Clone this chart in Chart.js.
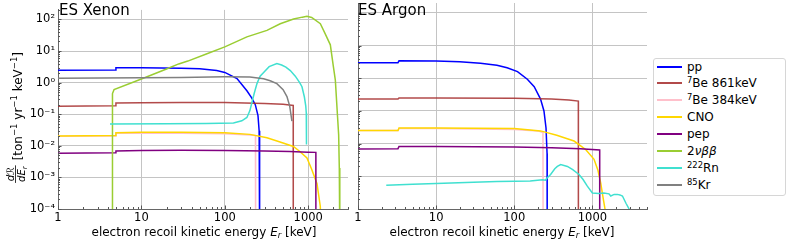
<!DOCTYPE html>
<html><head><meta charset="utf-8">
<script src="https://cdn.jsdelivr.net/npm/chart.js@4/dist/chart.umd.min.js"></script>
<style>
body{margin:0;background:#fff;}
#wrap{position:relative;width:789px;height:242px;overflow:hidden;font-family:'DejaVu Sans',sans-serif;color:#000}
canvas{position:absolute;top:0}
.ptitle{position:absolute;top:0px;font-size:15px;line-height:20px;white-space:nowrap}
.xtitle{position:absolute;top:224px;font-size:12px;line-height:16px;transform:translateX(-50%);white-space:nowrap}
#legend{position:absolute;left:653px;top:58px;width:131px;height:136px;border:1px solid #d6d6d6;border-radius:3px;background:#fff}
.lrow{position:absolute;left:0;height:16px;width:130px}
.lline{position:absolute;left:3px;top:7px;width:25px;height:2px}
.ltext{position:absolute;left:33px;top:0;font-size:12px;line-height:16px;white-space:nowrap}
sup{font-size:70%;vertical-align:0.45em;line-height:0}
sub{font-size:70%;vertical-align:-0.25em;line-height:0}
</style></head>
<body>
<div id="wrap">
<canvas id="xe" width="352" height="242" style="left:0"></canvas>
<canvas id="ar" width="300" height="242" style="left:350px"></canvas>
<div class="ptitle" style="left:59px">ES Xenon</div>
<div class="ptitle" style="left:358px">ES Argon</div>
<div class="xtitle" style="left:204px">electron recoil kinetic energy <i>E<sub>r</sub></i> [keV]</div>
<div class="xtitle" style="left:502px">electron recoil kinetic energy <i>E<sub>r</sub></i> [keV]</div>
<div id="legend"></div>
</div>
<script>
// ---- series names / colours ----
const seriesNames = ['pp', '7Be 861keV', '7Be 384keV', 'CNO', 'pep', '2νββ', '222Rn', '85Kr'];
const seriesColors = ['#0000ff', 'rgba(165,42,42,0.85)', '#ffc0cb', '#ffd700', '#800080', '#9acd32', '#40e0d0', '#808080'];
const xTickLabels = [1, 10, 100, 1000];
const yTickValues = [1e-4, 1e-3, 1e-2, 1e-1, 1, 10, 100];

// ---- ES Xenon ----
const xePpE   = [1, 4.85, 4.95, 10, 30, 50, 80, 100, 140, 184, 210, 232, 250, 258, 261, 262];
const xePpR   = [2.45, 2.5, 2.95, 2.95, 2.85, 2.75, 2.4, 2.1, 1.35, 0.55, 0.33, 0.2, 0.09, 0.03, 0.004, 1e-5];
const xeBe861E = [1, 4.85, 4.95, 10, 30, 100, 300, 500, 661, 662];
const xeBe861R = [0.18, 0.185, 0.225, 0.23, 0.235, 0.235, 0.22, 0.205, 0.19, 1e-5];
const xeBe384E = [1, 4.85, 4.95, 10, 30, 100, 200, 233, 234];
const xeBe384R = [0.02, 0.0205, 0.025, 0.025, 0.025, 0.024, 0.022, 0.021, 1e-5];
const xeCnoE  = [1, 4.85, 4.95, 10, 30, 100, 200, 320, 450, 665, 800, 966, 1100, 1275, 1397, 1430];
const xeCnoR  = [0.0205, 0.021, 0.026, 0.027, 0.027, 0.026, 0.023, 0.018, 0.0135, 0.0095, 0.0065, 0.0041, 0.0018, 0.00063, 0.00012, 1e-5];
const xePepE  = [1, 4.85, 4.95, 10, 30, 100, 300, 600, 1000, 1235, 1236];
const xePepR  = [0.0058, 0.006, 0.0069, 0.0071, 0.0072, 0.0071, 0.0069, 0.0066, 0.0063, 0.0062, 1e-5];
const xe2nbbE = [4.45, 4.5, 4.7, 10, 20, 28, 36, 60, 100, 184, 320, 462, 668, 850, 966, 1100, 1398, 1600, 1842, 2000, 2115, 2250, 2318, 2360, 2385, 2400];
const xe2nbbR = [1e-5, 0.45, 0.6, 1.3, 2.7, 3.9, 4.8, 8, 13.5, 28, 45, 73, 103, 118, 125, 115, 73, 35, 15.7, 3.3, 1.2, 0.08, 0.022, 0.002, 1e-4, 1e-5];
const xeRnE   = [4.2, 20, 60, 127, 160, 184, 200, 211, 225, 243, 265, 292, 340, 421, 480, 540, 610, 700, 790, 842, 900, 935, 948, 952, 955];
const xeRnR   = [0.049, 0.05, 0.051, 0.053, 0.062, 0.079, 0.13, 0.23, 0.45, 0.93, 1.6, 2.1, 3.2, 4.0, 3.6, 3.1, 2.4, 1.6, 1.0, 0.74, 0.35, 0.18, 0.11, 0.05, 0.011];
const xeKrE   = [1, 10, 30, 100, 200, 292, 350, 421, 500, 556, 600, 638];
const xeKrR   = [1.38, 1.42, 1.46, 1.52, 1.5, 1.33, 1.15, 0.93, 0.6, 0.36, 0.18, 0.06];

// ---- ES Argon ----
const arPpE   = [1, 3.25, 3.35, 10, 20, 37, 60, 81, 110, 147, 180, 217, 240, 255, 263, 264];
const arPpR   = [3.0, 3.0, 3.4, 3.35, 3.2, 2.85, 2.5, 2.1, 1.6, 0.93, 0.55, 0.23, 0.1, 0.03, 0.005, 1e-5];
const arBe861E = [1, 3.25, 3.35, 10, 100, 300, 500, 661, 662];
const arBe861R = [0.23, 0.23, 0.25, 0.25, 0.245, 0.23, 0.215, 0.2, 1e-5];
const arBe384E = [1, 3.25, 3.35, 10, 100, 200, 233, 234];
const arBe384R = [0.025, 0.025, 0.029, 0.029, 0.027, 0.0245, 0.022, 1e-5];
const arCnoE  = [1, 3.25, 3.35, 10, 100, 217, 350, 582, 820, 1050, 1180, 1277, 1380, 1450, 1470];
const arCnoR  = [0.025, 0.025, 0.030, 0.030, 0.029, 0.0245, 0.018, 0.012, 0.0066, 0.0033, 0.0015, 0.00063, 0.0002, 1e-4, 1e-5];
const arPepE  = [1, 3.25, 3.35, 10, 100, 300, 700, 1240, 1241];
const arPepR  = [0.0069, 0.007, 0.0082, 0.0082, 0.0079, 0.0075, 0.007, 0.0064, 1e-5];
const arRnE   = [2.3, 5, 10, 30, 60, 100, 160, 230, 250, 265, 292, 330, 356, 393, 479, 560, 674, 760, 861, 1000, 1200, 1400, 1630, 1718, 1900, 2090, 2250, 2425, 2690, 2950, 3000];
const arRnR   = [5.3e-4, 5.7e-4, 6e-4, 6.6e-4, 6.9e-4, 7e-4, 7.2e-4, 7.8e-4, 7.6e-4, 9e-4, 1.14e-3, 1.7e-3, 2e-3, 2.3e-3, 2e-3, 1.6e-3, 1.14e-3, 8e-4, 5e-4, 3.1e-4, 3e-4, 3.1e-4, 2.9e-4, 2.5e-4, 2.8e-4, 2.8e-4, 2.7e-4, 2.5e-4, 1.5e-4, 1e-4, 1e-5];

const xenonSeries = [[xePpE, xePpR], [xeBe861E, xeBe861R], [xeBe384E, xeBe384R], [xeCnoE, xeCnoR], [xePepE, xePepR], [xe2nbbE, xe2nbbR], [xeRnE, xeRnR], [xeKrE, xeKrR]];
const argonSeries = [[arPpE, arPpR], [arBe861E, arBe861R], [arBe384E, arBe384R], [arCnoE, arCnoR], [arPepE, arPepR], null, [arRnE, arRnR], null];

const SUP = {'-':'⁻','0':'⁰','1':'¹','2':'²','3':'³','4':'⁴','5':'⁵','6':'⁶','7':'⁷','8':'⁸','9':'⁹'};
function supStr(n){ return String(n).split('').map(c => SUP[c]).join(''); }

const minorTicks = {
  id: 'minorTicks',
  afterDraw(chart) {
    const ctx = chart.ctx, a = chart.chartArea, xs = chart.scales.x, ys = chart.scales.y;
    ctx.save();
    ctx.strokeStyle = '#555';
    ctx.lineWidth = 1;
    ctx.beginPath();
    for (let d = 1; d <= 10000; d *= 10) {
      for (let k = 1; k <= 9; k++) {
        const v = d * k;
        if (v < xs.min || v > xs.max) continue;
        const px = Math.round(xs.getPixelForValue(v)) + 0.5;
        const len = k === 1 ? 3.5 : 2;
        ctx.moveTo(px, a.bottom); ctx.lineTo(px, a.bottom - len);
      }
    }
    for (let d = 1e-4; d <= 1000; d *= 10) {
      for (let k = 1; k <= 9; k++) {
        const v = d * k;
        if (v < ys.min * 0.999 || v > ys.max) continue;
        const py = Math.round(ys.getPixelForValue(v)) + 0.5;
        const len = k === 1 ? 3.5 : 2;
        ctx.moveTo(a.left, py); ctx.lineTo(a.left + len, py);
      }
    }
    ctx.stroke();
    ctx.restore();
  }
};

// rotated y-axis title drawn on the Xenon canvas
const yTitle = {
  id: 'yTitle',
  afterDraw(chart) {
    const ctx = chart.ctx;
    const a = chart.chartArea;
    const cy = (a.top + a.bottom) / 2 + 8;
    ctx.save();
    ctx.translate(22, cy);
    ctx.rotate(-Math.PI / 2);
    ctx.fillStyle = '#000';
    ctx.strokeStyle = '#000';
    ctx.textBaseline = 'alphabetic';
    ctx.textAlign = 'left';
    const fN = 'italic 10px "DejaVu Sans"', fS = 'italic 7px "DejaVu Sans"';
    const fT = '12px "DejaVu Sans"', fU = '8.5px "DejaVu Sans"';
    ctx.font = fN; const wN = ctx.measureText('dℛ').width; const wDE = ctx.measureText('dE').width;
    ctx.font = fS; const wR = ctx.measureText('r').width;
    const wD = wDE + wR;
    const fracW = Math.max(wN, wD) + 2;
    const parts = [['[ton', fT, 0], ['−1', fU, -5], [' yr', fT, 0], ['−1', fU, -5], [' keV', fT, 0], ['−1', fU, -5], [']', fT, 0]];
    let textW = 0;
    parts.forEach(p => { ctx.font = p[1]; p.push(ctx.measureText(p[0]).width); textW += p[3]; });
    const total = fracW + 5 + textW;
    let u = -total / 2;
    // fraction
    ctx.font = fN; ctx.fillText('dℛ', u + (fracW - wN) / 2, -8.5);
    ctx.lineWidth = 0.8; ctx.beginPath(); ctx.moveTo(u, -6.5); ctx.lineTo(u + fracW, -6.5); ctx.stroke();
    const du = u + (fracW - wD) / 2;
    ctx.font = fN; ctx.fillText('dE', du, 3);
    ctx.font = fS; ctx.fillText('r', du + wDE, 5);
    u += fracW + 5;
    parts.forEach(p => { ctx.font = p[1]; ctx.fillText(p[0], u, p[2]); u += p[3]; });
    ctx.restore();
  }
};

function buildChart(id, series, xmax, yLabels, yWidth, padRight, extra) {
  const datasets = [];
  series.forEach((s, i) => {
    if (!s) return;
    datasets.push({
      label: seriesNames[i],
      data: s[0].map((e, j) => ({x: e, y: s[1][j]})),
      borderColor: seriesColors[i],
      backgroundColor: seriesColors[i],
      borderWidth: 1.5,
      pointRadius: 0,
      fill: false,
      tension: 0,
      order: 20 - i
    });
  });
  return new Chart(document.getElementById(id), {
    type: 'line',
    data: {datasets},
    plugins: [minorTicks].concat(extra),
    options: {
      responsive: false,
      animation: false,
      devicePixelRatio: 1,
      layout: {padding: {top: 3, right: padRight, left: 0, bottom: 0}},
      plugins: {legend: {display: false}, tooltip: {enabled: false}},
      scales: {
        x: {
          type: 'logarithmic', min: 1, max: xmax,
          afterBuildTicks: sc => { sc.ticks = xTickLabels.map(v => ({value: v})); },
          afterFit: sc => { sc.height = 33; },
          grid: {color: '#c4c4c4', lineWidth: 1, drawTicks: false},
          border: {display: true, color: '#666', width: 1},
          ticks: {padding: 2, color: '#000', font: {family: 'DejaVu Sans', size: 11.5}, maxRotation: 0, autoSkip: false,
                  callback: v => String(v)}
        },
        y: {
          type: 'logarithmic', min: 1e-4, max: 200,
          afterBuildTicks: sc => { sc.ticks = yTickValues.map(v => ({value: v})); },
          afterFit: sc => { sc.width = yWidth; },
          grid: {color: '#c4c4c4', lineWidth: 1, drawTicks: false},
          border: {display: true, color: '#666', width: 1},
          ticks: {display: yLabels, padding: 3, color: '#000', font: {family: 'DejaVu Sans', size: 11.5}, autoSkip: false,
                  callback: v => '10' + supStr(Math.round(Math.log10(v)))}
        }
      }
    }
  });
}

buildChart('xe', xenonSeries, 3000, true, 58, 4, [yTitle]);
buildChart('ar', argonSeries, 5000, false, 8, 3, []);

// legend built from the same names/colours
const leg = document.getElementById('legend');
seriesNames.forEach((n, i) => {
  let html = n.replace(/^(\d+)/, '<sup>$1</sup>');
  if (n === '2νββ') html = '2<i>νββ</i>';
  const row = document.createElement('div');
  row.className = 'lrow';
  row.style.top = (-0.5 + i * 16.9) + 'px';
  row.innerHTML = '<div class="lline" style="background:' + seriesColors[i] + '"></div><div class="ltext">' + html + '</div>';
  leg.appendChild(row);
});
</script>
</body></html>
